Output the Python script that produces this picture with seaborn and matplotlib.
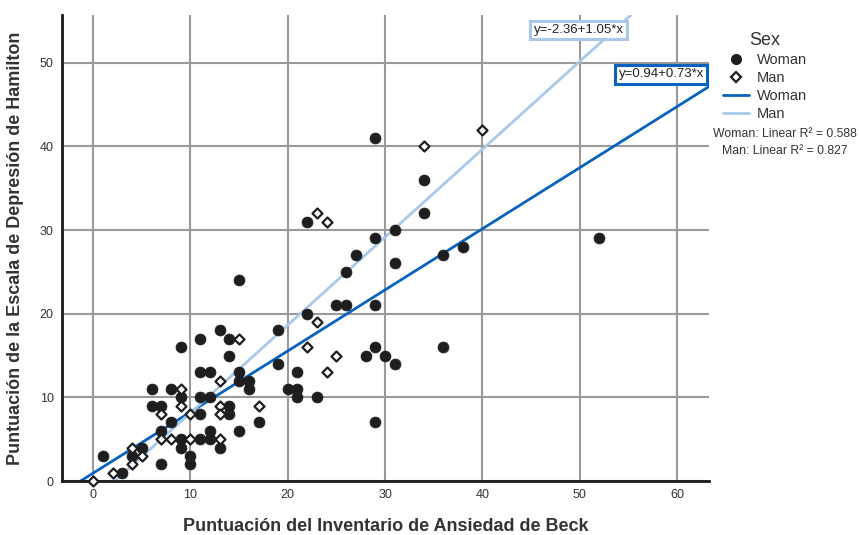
import numpy as np
import pandas as pd
import matplotlib
matplotlib.use('Agg')
import matplotlib.pyplot as plt
import seaborn as sns
from matplotlib.lines import Line2D

# Beck anxiety (x) vs Hamilton depression (y), by sex
woman_x = [1, 3, 4, 5, 6, 6, 7, 7, 7, 8, 8, 9, 9, 9, 9, 10, 10, 11, 11, 11, 11, 11,
           12, 12, 12, 12, 13, 13, 14, 14, 14, 14, 15, 15, 15, 15, 16, 16, 17, 19, 19,
           20, 21, 21, 21, 22, 22, 23, 25, 26, 26, 27, 28, 29, 29, 29, 29, 29, 30, 31,
           31, 31, 34, 34, 36, 36, 38, 52]
woman_y = [3, 1, 3, 4, 11, 9, 9, 2, 6, 11, 7, 16, 10, 5, 4, 3, 2, 17, 13, 10, 8, 5,
           13, 10, 6, 5, 18, 4, 17, 15, 9, 8, 24, 13, 12, 6, 12, 11, 7, 18, 14,
           11, 13, 11, 10, 31, 20, 10, 21, 25, 21, 27, 15, 41, 29, 21, 16, 7, 15, 30,
           26, 14, 36, 32, 27, 16, 28, 29]
man_x = [0, 2, 4, 4, 5, 7, 7, 8, 9, 9, 10, 10, 13, 13, 13, 13, 15, 17, 22, 23, 23,
         24, 24, 25, 34, 40]
man_y = [0, 1, 4, 2, 3, 8, 5, 5, 11, 9, 5, 8, 12, 9, 8, 5, 17, 9, 16, 19, 32,
         31, 13, 15, 40, 42]

# fit lines as printed on the chart
fit_intercept = {'Woman': 0.94, 'Man': -2.36}
fit_slope = {'Woman': 0.73, 'Man': 1.05}
eq_woman = 'y=0.94+0.73*x'
eq_man = 'y=-2.36+1.05*x'
r2_text = ['Woman: Linear R\u00b2 = 0.588', 'Man: Linear R\u00b2 = 0.827']

woman_df = pd.DataFrame({'beck': woman_x, 'hamilton': woman_y})
man_df = pd.DataFrame({'beck': man_x, 'hamilton': man_y})

sns.set_style('white')
plt.rcParams['font.family'] = ['Liberation Sans', 'DejaVu Sans']

c_woman = '#0a62bf'
c_man = '#a9c9ea'
grid_c = '#9a9a9a'

fig = plt.figure(figsize=(8.59, 5.35), dpi=100)
ax = fig.add_axes([62 / 859, 54 / 535, 647 / 859, 466 / 535])
ax.set_xlim(-3.2, 63.3)
ax.set_ylim(0, 55.7)

ax.set_xticks(range(0, 61, 10))
ax.set_yticks(range(0, 51, 10))
ax.grid(True, color=grid_c, linewidth=1.5)
ax.set_axisbelow(True)

for sex, col in [('Woman', c_woman), ('Man', c_man)]:
    ax.axline((0, fit_intercept[sex]), slope=fit_slope[sex], color=col,
              linewidth=2, zorder=3)

sns.scatterplot(data=woman_df, x='beck', y='hamilton', marker='o', s=62,
                color='#1e1e1e', edgecolor='#1e1e1e', linewidth=0.5, ax=ax, zorder=4)
sns.scatterplot(data=man_df, x='beck', y='hamilton', marker='D', s=26,
                facecolor='white', edgecolor='#1e1e1e', linewidth=1.6, ax=ax, zorder=5)
for coll in ax.collections:
    coll.set_clip_on(False)

ax.set_xlim(-3.2, 63.3)
ax.set_ylim(0, 55.7)

for s in ['top', 'right']:
    ax.spines[s].set_visible(False)
for s in ['left', 'bottom']:
    ax.spines[s].set_color('#1a1a1a')
    ax.spines[s].set_linewidth(2)
    ax.spines[s].set_zorder(3.5)
ax.tick_params(length=0, labelsize=9, labelcolor='#333333', pad=6)

ax.set_xlabel('Puntuación del Inventario de Ansiedad de Beck', fontsize=13,
              fontweight='bold', color='#333333', labelpad=12)
ax.set_ylabel('Puntuación de la Escala de Depresión de Hamilton', fontsize=13,
              fontweight='bold', color='#333333', labelpad=11)

# equation boxes
ax.text(49.9, 53.9, eq_man, fontsize=9.5, ha='center', va='center', color='#222222',
        zorder=6, clip_on=False,
        bbox=dict(boxstyle='square,pad=0.25', fc='white', ec=c_man, lw=2.2))
ax.text(58.4, 48.6, eq_woman, fontsize=9.5, ha='center', va='center', color='#222222',
        zorder=6, clip_on=False,
        bbox=dict(boxstyle='square,pad=0.25', fc='white', ec=c_woman, lw=2.2))

handles = [
    Line2D([], [], marker='o', linestyle='none', color='#1e1e1e', markersize=7),
    Line2D([], [], marker='D', linestyle='none', markerfacecolor='white',
           markeredgecolor='#1e1e1e', markeredgewidth=1.6, markersize=5.5),
    Line2D([], [], color=c_woman, linewidth=2),
    Line2D([], [], color=c_man, linewidth=2),
]
labels = ['Woman', 'Man', 'Woman', 'Man']
leg = fig.legend(handles, labels, title='Sex', loc='upper left',
                 bbox_to_anchor=(0.835, 0.951), frameon=False, fontsize=10.5,
                 title_fontsize=13, handlelength=1.8, handletextpad=0.5,
                 labelspacing=0.28, borderaxespad=0)
leg.get_title().set_color('#333333')
for t in leg.get_texts():
    t.set_color('#333333')

fig.text(785 / 859, 1 - 134 / 535, r2_text[0], fontsize=8.8, ha='center', va='center',
         color='#333333')
fig.text(785 / 859, 1 - 151 / 535, r2_text[1], fontsize=8.8, ha='center', va='center',
         color='#333333')

fig.savefig('out.png', dpi=100)
